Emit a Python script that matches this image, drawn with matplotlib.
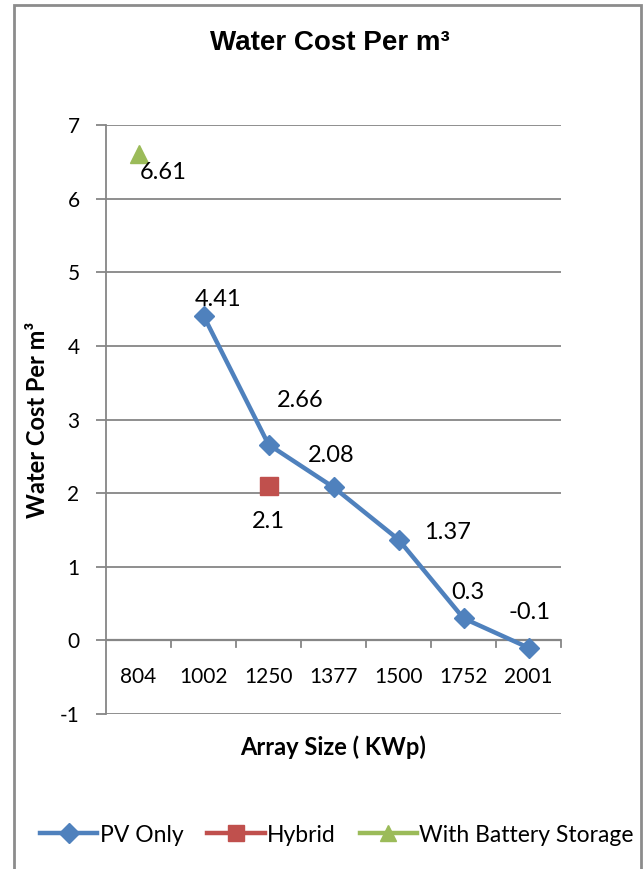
import matplotlib.pyplot as plt
from matplotlib.lines import Line2D
from matplotlib.patches import Rectangle

# array sizes (KWp) used as categories
categories = ["804", "1002", "1250", "1377", "1500", "1752", "2001"]

# water cost per m3 for each configuration
pv_only_cats = ["1002", "1250", "1377", "1500", "1752", "2001"]
pv_only = [4.41, 2.66, 2.08, 1.37, 0.3, -0.1]
hybrid_cats = ["1250"]
hybrid = [2.1]
battery_cats = ["804"]
battery = [6.61]

# label offsets in pixels (dx, dy) for each point
pv_offsets = [(15, 16), (32, 44), (-2, 32), (49, 7), (4, 26), (1, 35)]
hybrid_offsets = [(0, -36)]
battery_offsets = [(25, -19)]

BLUE = "#4F81BD"
RED = "#C0504D"
GREEN = "#9BBB59"
GRID = "#868686"
FONT = "Lato"

plt.rcParams["font.family"] = [FONT, "DejaVu Sans"]

fig = plt.figure(figsize=(6.43, 8.69), dpi=100)
# chart area border
fig.patches.append(Rectangle((14 / 643, -0.05), 627 / 643, 1.05 - 5 / 869,
                             transform=fig.transFigure, fill=False,
                             edgecolor="#8c8c8c", linewidth=2))

ax = fig.add_axes([106 / 643, 1 - 714 / 869, 455 / 643, 589 / 869])

xpos = {c: i for i, c in enumerate(categories)}

ax.plot([xpos[c] for c in pv_only_cats], pv_only, color=BLUE, lw=3.2,
        marker="D", markersize=10, solid_capstyle="round")
ax.plot([xpos[c] for c in hybrid_cats], hybrid, color=RED,
        marker="s", markersize=13, linestyle="none")
ax.plot([xpos[c] for c in battery_cats], battery, color=GREEN,
        marker="^", markersize=13, linestyle="none")

def label_points(cats, vals, offsets):
    for c, v, (dx, dy) in zip(cats, vals, offsets):
        ax.annotate(f"{v:g}", (xpos[c], v), xytext=(dx, dy),
                    textcoords="offset pixels", ha="center", va="center",
                    fontsize=17)

label_points(pv_only_cats, pv_only, pv_offsets)
label_points(hybrid_cats, hybrid, hybrid_offsets)
label_points(battery_cats, battery, battery_offsets)

ax.set_xlim(-0.5, len(categories) - 0.5)
ax.set_ylim(-1, 7)
ax.set_yticks(range(-1, 8))
ax.set_yticklabels([str(v) for v in range(-1, 8)], fontsize=15)
ax.grid(axis="y", color=GRID, linewidth=1.3)
ax.set_axisbelow(True)

for s in ["top", "right", "bottom"]:
    ax.spines[s].set_visible(False)
ax.spines["left"].set_color(GRID)
ax.spines["left"].set_linewidth(1.3)
ax.tick_params(axis="y", length=7, width=1.3, color=GRID, pad=12)

# category axis crosses at zero; ticks sit between categories
ax.axhline(0, color=GRID, linewidth=1.6, zorder=1.5)
ax.set_xticks([i + 0.5 for i in range(len(categories))])
ax.set_xticklabels([])
ax.tick_params(axis="x", length=0)
for i in range(len(categories)):
    ax.plot([i + 0.5, i + 0.5], [0, -0.09], color=GRID, lw=1.3,
            clip_on=False, zorder=1.5)
    ax.text(i, -0.5, categories[i], ha="center", va="center", fontsize=15)

ax.set_ylabel("Water Cost Per m³", fontsize=17, fontweight="bold", labelpad=8)
ax.set_xlabel("Array Size ( KWp)", fontsize=17, fontweight="bold", labelpad=12)

fig.text(330 / 643, 1 - 43 / 869, "Water Cost Per m³", ha="center", va="center",
         fontsize=20, fontweight="bold", family="Liberation Sans")

handles = [
    Line2D([], [], color=BLUE, lw=3.2, marker="D", markersize=10),
    Line2D([], [], color=RED, lw=3.2, marker="s", markersize=12),
    Line2D([], [], color=GREEN, lw=3.2, marker="^", markersize=12),
]
fig.legend(handles, ["PV Only", "Hybrid", "With Battery Storage"],
           loc="center", bbox_to_anchor=(337 / 643, 1 - 835 / 869), ncol=3,
           frameon=False, fontsize=16.5, handlelength=2.5, columnspacing=1.05,
           handletextpad=0.1)

fig.savefig("out.png", dpi=100)
